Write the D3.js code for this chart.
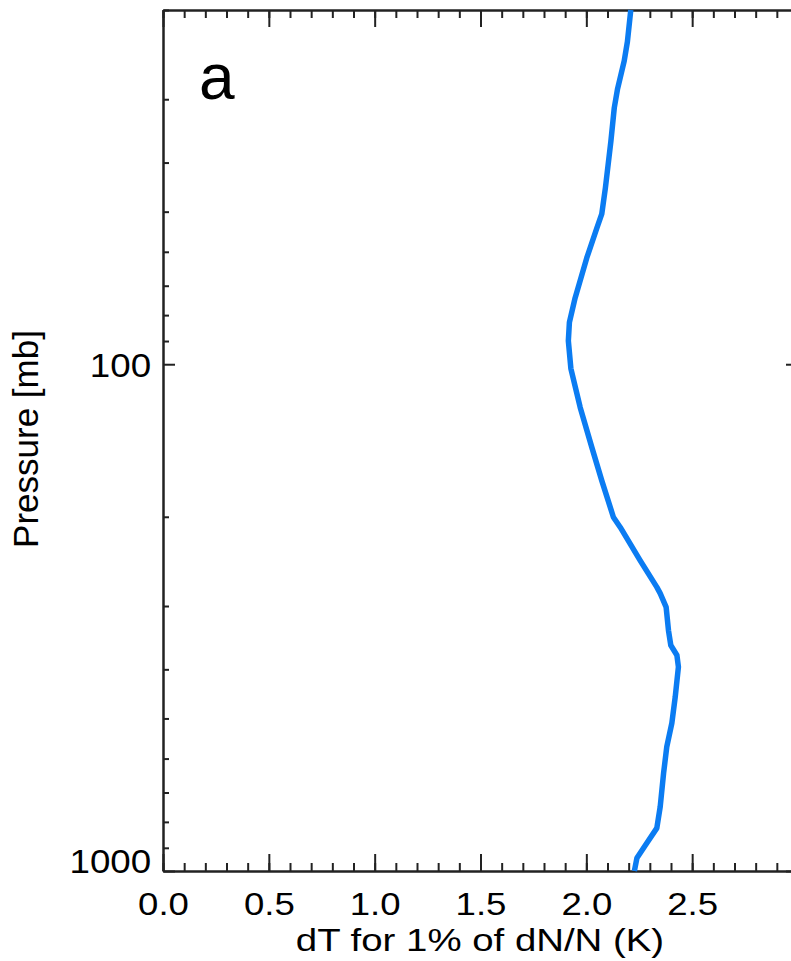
<!DOCTYPE html>
<html>
<head>
<meta charset="utf-8">
<script src="https://cdn.jsdelivr.net/npm/d3@7"></script>
<style>
	body { margin: 0; background: #fff; }
	text { font-family: "Liberation Sans", Arial, Helvetica, sans-serif; fill: #000; }
	.domain { stroke: #222; stroke-width: 2px; }
	.tick line { stroke: #222; stroke-width: 2px; }
</style>
</head>
<body>
<div id="chartDiv"></div>
<script>
// pressure levels (mb) and dT (K)
var pressure = [20, 23.1, 25.2, 28.7, 31.2, 36.3, 44.9, 50.5, 53.8, 61.7, 74.0, 82.7, 89.9, 102, 121.7, 145.9, 169.7, 200.4, 209.7, 243.9, 275.3, 283.3, 301.5, 335, 358.6, 375.3, 395.7, 453.5, 510.9, 569.1, 641.2, 746.9, 823, 880.8, 942.8, 1000];
var dT = [2.210, 2.194, 2.179, 2.147, 2.132, 2.116, 2.090, 2.073, 2.050, 2.002, 1.947, 1.920, 1.915, 1.927, 1.971, 2.026, 2.073, 2.128, 2.160, 2.254, 2.333, 2.349, 2.377, 2.388, 2.399, 2.428, 2.435, 2.420, 2.404, 2.380, 2.365, 2.349, 2.333, 2.286, 2.239, 2.227];

var xMajor = [0, 0.5, 1.0, 1.5, 2.0, 2.5, 3.0];
var xLabels = ["0.0", "0.5", "1.0", "1.5", "2.0", "2.5"];
var yMajor = [100, 1000];
var yMinor = [20, 30, 40, 50, 60, 70, 80, 90, 200, 300, 400, 500, 600, 700, 800, 900];

var xTitle = "dT for 1% of dN/N (K)";
var yTitle = "Pressure [mb]";
var panel = "a";

var data = pressure.map(function(p, i) { return {p: p, dt: dT[i]}; });
var xMinor = d3.range(0, 31).map(function(i) { return i / 10; });

// plot box (right edge falls just past the window)
var W = 791, H = 961;
var pLeft = 163, pRight = 798, pTop = 10, pBottom = 871;

var x = d3.scaleLinear().domain([0, 3]).range([pLeft, pRight]);
var y = d3.scaleLog().domain([1000, 20]).range([pBottom, pTop]);

var svg = d3.select("#chartDiv")
	.append("svg")
	.attr("width", W)
	.attr("height", H);

// minor ticks first, then major axes on top
svg.append("g")
	.attr("transform", "translate(0," + pBottom + ")")
	.call(d3.axisBottom(x).tickValues(xMinor).tickSize(-8).tickSizeOuter(0).tickFormat(""));
svg.append("g")
	.attr("transform", "translate(0," + pTop + ")")
	.call(d3.axisTop(x).tickValues(xMinor).tickSize(-8).tickSizeOuter(0).tickFormat(""));
svg.append("g")
	.attr("transform", "translate(" + pLeft + ",0)")
	.call(d3.axisLeft(y).tickValues(yMinor).tickSize(-6).tickSizeOuter(0).tickFormat(""));
svg.append("g")
	.attr("transform", "translate(" + pRight + ",0)")
	.call(d3.axisRight(y).tickValues(yMinor).tickSize(-6).tickSizeOuter(0).tickFormat(""));

var xAxis = svg.append("g")
	.attr("transform", "translate(0," + pBottom + ")")
	.call(d3.axisBottom(x).tickValues(xMajor).tickSize(-17).tickSizeOuter(0)
		.tickFormat(function(d, i) { return xLabels[i] || ""; }));
xAxis.selectAll(".tick text")
	.attr("y", 44)
	.attr("dy", null)
	.attr("font-size", 31)
	.attr("transform", "scale(1.18,1)");

svg.append("g")
	.attr("transform", "translate(0," + pTop + ")")
	.call(d3.axisTop(x).tickValues(xMajor).tickSize(-17).tickSizeOuter(0).tickFormat(""));

var yAxis = svg.append("g")
	.attr("transform", "translate(" + pLeft + ",0)")
	.call(d3.axisLeft(y).tickValues(yMajor).tickSize(-12).tickSizeOuter(0).tickFormat(d3.format("d")));
yAxis.selectAll(".tick text")
	.attr("x", -11)
	.attr("dy", null)
	.attr("y", function(d) { return d == 1000 ? 1 : 12.5; })
	.attr("font-size", 34)
	.attr("text-anchor", "end")
	.attr("transform", "scale(1.08,1)");

svg.append("g")
	.attr("transform", "translate(" + pRight + ",0)")
	.call(d3.axisRight(y).tickValues(yMajor).tickSize(-12).tickSizeOuter(0).tickFormat(""));

// profile line
var line = d3.line()
	.x(function(d) { return x(d.dt); })
	.y(function(d) { return y(d.p); });

svg.append("path")
	.datum(data)
	.attr("fill", "none")
	.attr("stroke", "#0b7cf2")
	.attr("stroke-width", 5.5)
	.attr("stroke-linejoin", "round")
	.attr("d", line);

// titles
svg.append("text")
	.attr("transform", "translate(480,951) scale(1.2,1)")
	.attr("text-anchor", "middle")
	.attr("font-size", 32)
	.text(xTitle);

svg.append("text")
	.attr("transform", "translate(37.5,439) rotate(-90)")
	.attr("text-anchor", "middle")
	.attr("font-size", 35)
	.text(yTitle);

svg.append("text")
	.attr("x", 199)
	.attr("y", 99)
	.attr("font-size", 64)
	.text(panel);
</script>
</body>
</html>
